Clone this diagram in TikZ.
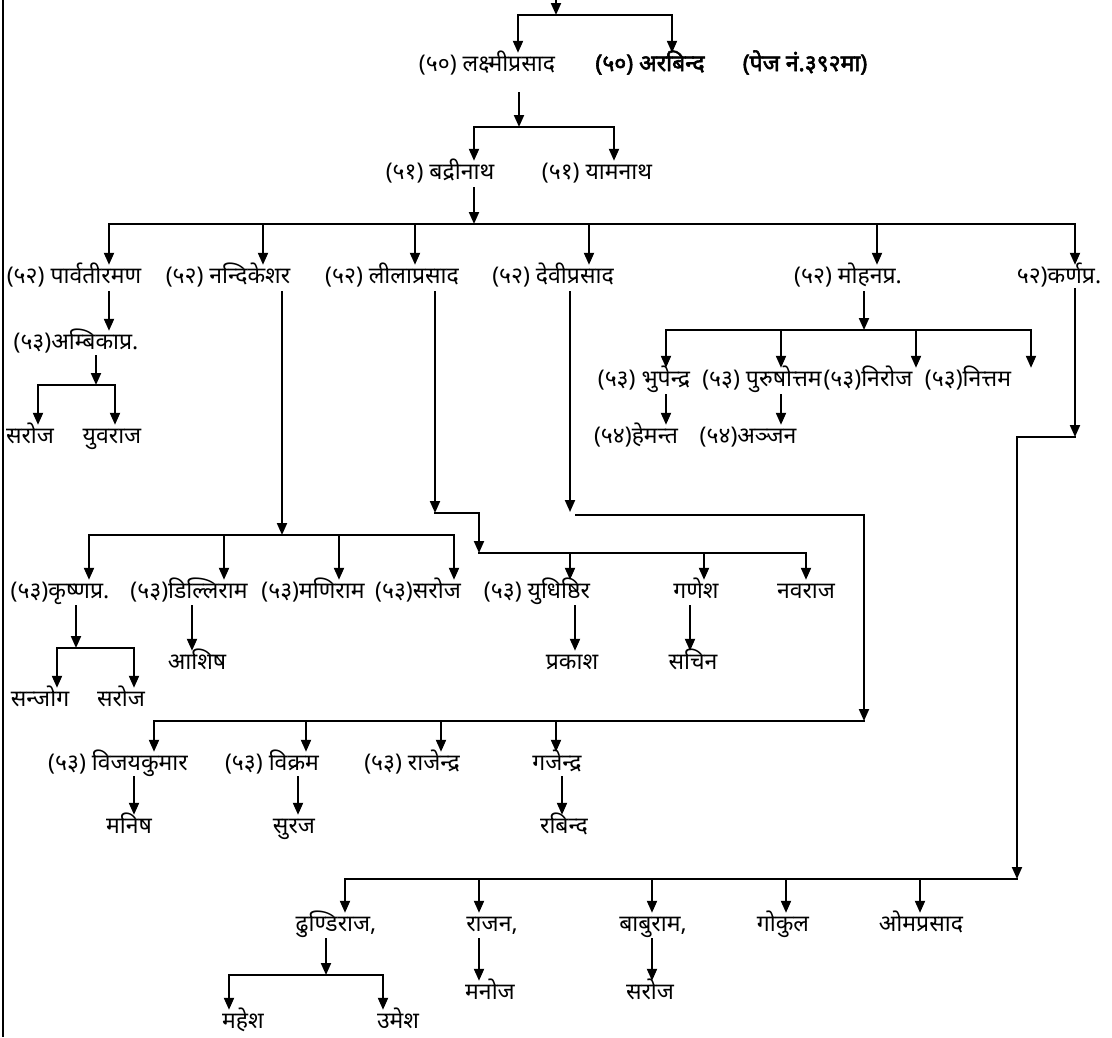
\documentclass[tikz,border=0pt]{standalone}
\usepackage{fontspec}
\setmainfont[Script=Devanagari]{Noto Sans}
\newfontfamily\devbold[Script=Devanagari,FakeBold=2.5]{Noto Sans}
\usetikzlibrary{arrows.meta}
\begin{document}
\begin{tikzpicture}[x=1pt,y=-1pt,
  pn/.style={inner sep=0pt, minimum height=24pt, text height=15pt, text depth=3pt, font=\fontsize{23}{26}\selectfont},
  bn/.style={pn, font=\fontsize{23}{26}\selectfont\devbold},
  ln/.style={line width=2pt, line cap=rect},
  arr/.style={ln, -{Triangle[width=10pt,length=12pt]}}]
\useasboundingbox (0,0) rectangle (1112,1037);
\draw[line width=2pt] (2.5,0) -- (2.5,1037);
% row 1
\node[pn] (l50) at (487,65) {(५०) लक्ष्मीप्रसाद};
\node[bn] (a50) at (650,65) {(५०) अरबिन्द};
\node[bn] (pg) at (805,65) {(पेज नं.३९२मा)};
\coordinate (top) at (556,0);
\coordinate (r1m) at (556,15);
\coordinate (r1L) at (518,15);
\coordinate (r1R) at (672,15);
\draw[arr] (top) -- (r1m);
\draw[arr] (r1R) -- (r1L) -- (r1L |- l50.north);
\draw[arr] (r1R) -- (r1R |- a50.north);
% row 2
\node[pn] (b51) at (440,173) {(५१) बद्रीनाथ};
\node[pn] (y51) at (597,173) {(५१) यामनाथ};
\coordinate (r2m) at (519,127);
\coordinate (r2L) at (474,127);
\coordinate (r2R) at (614,127);
\draw[arr] ([yshift=-16pt]l50.south -| r2m) -- (r2m);
\draw[arr] (r2R) -- (r2L) -- (r2L |- b51.north);
\draw[arr] (r2R) -- (r2R |- y51.north);
% row 3
\node[pn] (p52) at (74,277) {(५२) पार्वतीरमण};
\node[pn] (n52) at (228,277) {(५२) नन्दिकेशर};
\node[pn] (l52) at (392,277) {(५२) लीलाप्रसाद};
\node[pn] (d52) at (553,277) {(५२) देवीप्रसाद};
\node[pn] (m52) at (848,277) {(५२) मोहनप्र.};
\node[pn] (k52) at (1059,277) {५२)कर्णप्र.};
\coordinate (r3m) at (474,224);
\coordinate (r3a) at (109,224);
\coordinate (r3b) at (263,224);
\coordinate (r3c) at (415,224);
\coordinate (r3d) at (589,224);
\coordinate (r3e) at (877,224);
\coordinate (r3f) at (1075,224);
\draw[arr] ([yshift=-3pt]b51.south -| r3m) -- (r3m);
\draw[arr] (r3f) -- (r3a) -- (r3a |- p52.north);
\draw[arr] (r3b) -- (r3b |- n52.north);
\draw[arr] (r3c) -- (r3c |- l52.north);
\draw[arr] (r3d) -- (r3d |- d52.north);
\draw[arr] (r3e) -- (r3e |- m52.north);
\draw[arr] (r3f) -- (r3f |- k52.north);
% parvati
\node[pn] (amb) at (76,343) {(५३)अम्बिकाप्र.};
\draw[arr] ([yshift=-3pt]p52.south -| r3a) -- (r3a |- amb.north);
\coordinate (am) at (96,385);
\coordinate (amL) at (38,385);
\coordinate (amR) at (115,385);
\node[pn] (sar1) at (30,437) {सरोज};
\node[pn] (yuv) at (112,437) {युवराज};
\draw[arr] ([yshift=-1pt]amb.south -| am) -- (am);
\draw[arr] (amR) -- (amL) -- (amL |- sar1.north);
\draw[arr] (amR) -- (amR |- yuv.north);
% mohan
\coordinate (mo) at (864,330);
\coordinate (moA) at (666,330);
\coordinate (moB) at (781,330);
\coordinate (moC) at (916,330);
\coordinate (moD) at (1031,330);
\node[pn] (bhu) at (644,380) {(५३) भुपेन्द्र};
\node[pn] (pur) at (762,380) {(५३) पुरुषोत्तम};
\node[pn] (nir) at (868,380) {(५३)निरोज};
\node[pn] (nit) at (968,380) {(५३)नित्तम};
\draw[arr] ([yshift=-3pt]m52.south -| mo) -- (mo);
\draw[arr] (moD) -- (moA) -- (moA |- bhu.north);
\draw[arr] (moB) -- (moB |- pur.north);
\draw[arr] (moC) -- (moC |- nir.north);
\draw[arr] (moD) -- (moD |- nit.north);
\node[pn] (hem) at (636,437) {(५४)हेमन्त};
\node[pn] (anj) at (748,437) {(५४)अञ्जन};
\draw[arr] ([yshift=-3pt]bhu.south -| moA) -- (moA |- hem.north);
\draw[arr] ([yshift=-3pt]pur.south -| moB) -- (moB |- anj.north);
% karn
\coordinate (kj) at (1075,437);
\coordinate (kk) at (1017,437);
\coordinate (bbR) at (1017,879);
\draw[arr] (k52.south -| kj) -- (kj);
\draw[arr] (kj) -- (kk) -- (bbR);
% nandi
\coordinate (nj) at (282,535);
\coordinate (nbL) at (89,535);
\coordinate (nbB) at (224,535);
\coordinate (nbC) at (339,535);
\coordinate (nbR) at (454,535);
\node[pn] (kri) at (60,592) {(५३)कृष्णप्र.};
\node[pn] (dil) at (189,592) {(५३)डिल्लिराम};
\node[pn] (man) at (313,592) {(५३)मणिराम};
\node[pn] (sar2) at (418,592) {(५३)सरोज};
\draw[arr] ([yshift=-3pt]n52.south -| nj) -- (nj);
\draw[arr] (nbR) -- (nbL) -- (nbL |- kri.north);
\draw[arr] (nbB) -- (nbB |- dil.north);
\draw[arr] (nbC) -- (nbC |- man.north);
\draw[arr] (nbR) -- (nbR |- sar2.north);
% lila
\coordinate (lj) at (435,513);
\coordinate (lk) at (479,513);
\coordinate (lbL) at (479,553);
\coordinate (lbA) at (570,553);
\coordinate (lbB) at (704,553);
\coordinate (lbR) at (806,553);
\node[pn] (yud) at (537,592) {(५३) युधिष्ठिर};
\node[pn] (gan) at (696,592) {गणेश};
\node[pn] (nav) at (806,592) {नवराज};
\draw[arr] ([yshift=-3pt]l52.south -| lj) -- (lj);
\draw[arr] (lj) -- (lk) -- (lbL);
\draw[arr] (lbL) -- (lbR) -- (lbR |- nav.north);
\draw[arr] (lbA) -- (lbA |- yud.north);
\draw[arr] (lbB) -- (lbB |- gan.north);
% krishna
\coordinate (kr) at (76,648);
\coordinate (krL) at (57,648);
\coordinate (krR) at (134,648);
\node[pn] (san) at (40,700) {सन्जोग};
\node[pn] (sar3) at (121,700) {सरोज};
\draw[arr] ([yshift=-2pt]kri.south -| kr) -- (kr);
\draw[arr] (krR) -- (krL) -- (krL |- san.north);
\draw[arr] (krR) -- (krR |- sar3.north);
\node[pn] (ash) at (197,663) {आशिष};
\node[pn] (pra) at (572,663) {प्रकाश};
\node[pn] (sac) at (693,663) {सचिन};
\coordinate (dilA) at (192,606);
\coordinate (yudA) at (575,606);
\coordinate (ganA) at (690,606);
\draw[arr] (dilA) -- (dilA |- ash.north);
\draw[arr] (yudA) -- (yudA |- pra.north);
\draw[arr] (ganA) -- (ganA |- sac.north);
% devi
\coordinate (dj) at (570,512);
\coordinate (dk) at (576,515);
\coordinate (dl) at (864,515);
\coordinate (dbR) at (864,721);
\coordinate (dbL) at (154,721);
\coordinate (dbB) at (306,721);
\coordinate (dbC) at (441,721);
\coordinate (dbD) at (556,721);
\node[pn] (vij) at (118,764) {(५३) विजयकुमार};
\node[pn] (vik) at (272,764) {(५३) विक्रम};
\node[pn] (raj) at (412,764) {(५३) राजेन्द्र};
\node[pn] (gaj) at (557,764) {गजेन्द्र};
\draw[arr] ([yshift=-3pt]d52.south -| dj) -- (dj);
\draw[arr] (dk) -- (dl) -- (dbR);
\draw[arr] (dbR) -- (dbL) -- (dbL |- vij.north);
\draw[arr] (dbB) -- (dbB |- vik.north);
\draw[arr] (dbC) -- (dbC |- raj.north);
\draw[arr] (dbD) -- (dbD |- gaj.north);
\node[pn] (mns) at (129,827) {मनिष};
\node[pn] (sur) at (294,827) {सुरज};
\node[pn] (rab) at (564,827) {रबिन्द};
\coordinate (vijA) at (134,777);
\coordinate (vikA) at (298,777);
\coordinate (gajA) at (562,777);
\draw[arr] (vijA) -- (vijA |- mns.north);
\draw[arr] (vikA) -- (vikA |- sur.north);
\draw[arr] (gajA) -- (gajA |- rab.north);
% bottom
\coordinate (bbA) at (345,879);
\coordinate (bbB) at (479,879);
\coordinate (bbC) at (652,879);
\coordinate (bbD) at (786,879);
\coordinate (bbE) at (920,879);
\node[pn] (dhu) at (336,925) {ढुण्डिराज,};
\node[pn] (rjn) at (492,925) {राजन,};
\node[pn] (bab) at (653,925) {बाबुराम,};
\node[pn] (gok) at (783,925) {गोकुल};
\node[pn] (om) at (921,925) {ओमप्रसाद};
\draw[arr] (bbR) -- (bbA) -- (bbA |- dhu.north);
\draw[arr] (bbB) -- (bbB |- rjn.north);
\draw[arr] (bbC) -- (bbC |- bab.north);
\draw[arr] (bbD) -- (bbD |- gok.north);
\draw[arr] (bbE) -- (bbE |- om.north);
\coordinate (dh) at (326,975);
\coordinate (dhL) at (229,975);
\coordinate (dhR) at (383,975);
\node[pn] (mah) at (243,1022) {महेश};
\node[pn] (ume) at (398,1022) {उमेश};
\node[pn] (mnj) at (490,993) {मनोज};
\node[pn] (sar4) at (650,993) {सरोज};
\draw[arr] ([yshift=-2pt]dhu.south -| dh) -- (dh);
\draw[arr] (dhR) -- (dhL) -- (dhL |- mah.north);
\draw[arr] (dhR) -- (dhR |- ume.north);
\draw[arr] ([yshift=-2pt]rjn.south -| bbB) -- (bbB |- mnj.north);
\draw[arr] ([yshift=-2pt]bab.south -| bbC) -- (bbC |- sar4.north);
\end{tikzpicture}
\end{document}
